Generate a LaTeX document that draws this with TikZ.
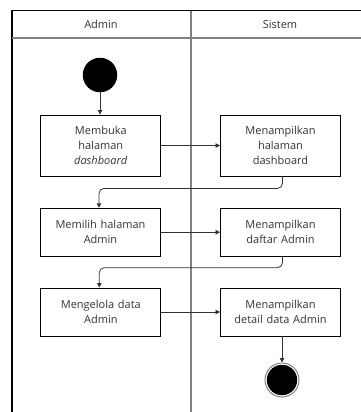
\documentclass[tikz,border=0pt]{standalone}
\usepackage{fontspec}
\setmainfont{Open Sans}
\usetikzlibrary{arrows.meta}
\definecolor{txt}{HTML}{333333}
\definecolor{lane}{HTML}{808080}
\tikzset{
  actbox/.style={draw=black, line width=0.9pt, minimum width=120pt, text width=112pt, align=center, inner sep=0pt, font=\fontsize{11}{15}\selectfont, text=txt},
  flow/.style={draw=txt, line width=0.8pt, -{Triangle[length=4.5pt,width=4.5pt]}},
  lanehead/.style={font=\fontsize{11}{15}\selectfont, text=txt},
}
\begin{document}
\begin{tikzpicture}[x=1pt,y=-1pt]
\useasboundingbox (0,0) rectangle (361,412);
% swimlane frame
\draw[line width=1.1pt, black] (12,10.5) -- (361,10.5);
\draw[line width=1.1pt, black] (12,10) -- (12,412);
\draw[line width=1.4pt, lane] (12,38) -- (361,38);
\draw[line width=1.4pt, lane] (191,11) -- (191,412);
\node[lanehead] (hA) at (101,24.5) {Admin};
\node[lanehead] (hS) at (280,24.5) {Sistem};
% start
\node[circle, fill=black, minimum size=34.5pt, inner sep=0pt] (start) at (100,75) {};
% boxes
\node[actbox, minimum height=61pt] (b1) at (100.8,145.5) {Membuka\\halaman\\\textit{dashboard}};
\node[actbox, minimum height=61pt] (b2) at (280.5,145.5) {Menampilkan\\halaman\\dashboard};
\node[actbox, minimum height=48pt] (b3) at (100.5,232.2) {Memilih halaman\\Admin};
\node[actbox, minimum height=48pt] (b4) at (280.5,232.2) {Menampilkan\\daftar Admin};
\node[actbox, minimum height=48pt] (b5) at (100.8,312) {Mengelola data\\Admin};
\node[actbox, minimum height=48pt] (b6) at (280.5,312) {Menampilkan\\detail data Admin};
% end
\node[circle, draw=lane, line width=1pt, fill=white, minimum size=34pt, inner sep=0pt,
  path picture={\fill[black] (path picture bounding box.center) circle (15.2pt);}] (end) at (282,380) {};
% connectors
\draw[flow] (start.south) -- (start.south |- b1.north);
\draw[flow] (b1.east) -- (b2.west);
\draw[flow, rounded corners=5pt] ([xshift=2pt]b2.south) -- ++(0,12) -| ([xshift=-1.5pt]b3.north);
\draw[flow] (b3.east) -- (b4.west);
\draw[flow, rounded corners=5pt] ([xshift=2pt]b4.south) -- ++(0,11) -| ([xshift=-1.5pt]b5.north);
\draw[flow] (b5.east) -- (b6.west);
\draw[flow] ([xshift=1.5pt]b6.south) -- (end.north);
\end{tikzpicture}
\end{document}
